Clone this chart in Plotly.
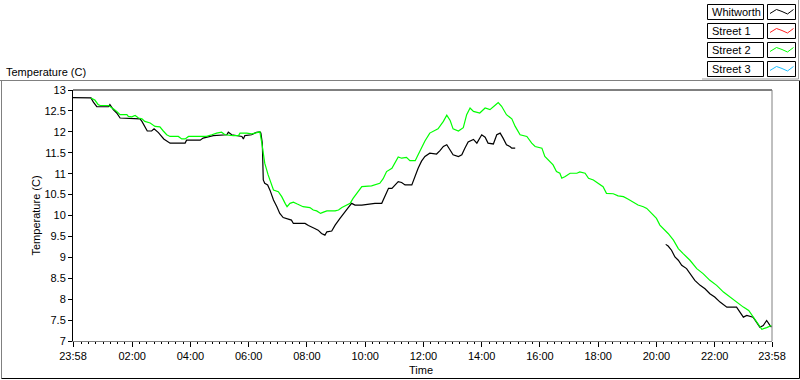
import datetime as dt
import plotly.graph_objects as go

# ---------------- data ----------------
START = "23:58"

whitworth_times = [
    "23:58", "00:35", "00:40", "00:47", "01:11", "01:14", "01:21", "01:28", "01:35", "02:16",
    "02:20", "02:26", "02:31", "02:40", "02:45", "02:54", "03:01", "03:05", "03:18", "03:49",
    "03:52", "04:20", "04:26", "04:40", "04:47", "05:15", "05:18", "05:25", "05:35", "05:46",
    "05:49", "05:52", "06:06", "06:16", "06:23", "06:25", "06:28", "06:30", "06:33", "06:39",
    "06:44", "06:51", "06:58", "07:04", "07:11", "07:21", "07:28", "07:32", "07:56", "08:03",
    "08:10", "08:16", "08:23", "08:30", "08:37", "08:41", "08:51", "08:58", "09:08", "09:15",
    "09:25", "09:32", "09:39", "09:53", "10:06", "10:20", "10:34", "10:41", "10:48", "10:55",
    "11:01", "11:08", "11:15", "11:22", "11:36", "11:43", "11:49", "11:56", "12:03", "12:13",
    "12:27", "12:34", "12:41", "12:48", "12:55", "13:01", "13:12", "13:19", "13:25", "13:32",
    "13:43", "13:50", "14:00", "14:07", "14:13", "14:24", "14:31", "14:38", "14:44", "14:51",
    "14:58", "15:02", "15:09", "17:30", "20:19", "20:24", "20:31", "20:38", "20:45", "20:52",
    "21:02", "21:09", "21:19", "21:30", "21:40", "21:50", "22:00", "22:11", "22:25", "22:45",
    "22:52", "22:59", "23:06", "23:19", "23:26", "23:33", "23:40", "23:47", "23:54", "23:57",
]
whitworth_temp = [
    12.82, 12.81, 12.71, 12.60, 12.60, 12.65, 12.53, 12.45, 12.33, 12.31,
    12.25, 12.13, 12.02, 12.02, 12.07, 11.98, 11.88, 11.83, 11.73, 11.73,
    11.80, 11.80, 11.85, 11.88, 11.91, 11.93, 11.99, 11.93, 11.91, 11.89,
    11.83, 11.91, 11.93, 11.99, 12.00, 11.97, 11.73, 10.85, 10.77, 10.73,
    10.60, 10.37, 10.21, 10.05, 9.95, 9.92, 9.89, 9.81, 9.81, 9.76,
    9.73, 9.69, 9.65, 9.57, 9.53, 9.61, 9.63, 9.77, 9.93, 10.05,
    10.19, 10.29, 10.25, 10.25, 10.27, 10.29, 10.29, 10.49, 10.65, 10.65,
    10.73, 10.81, 10.79, 10.73, 10.73, 10.95, 11.13, 11.30, 11.41, 11.49,
    11.47, 11.55, 11.65, 11.69, 11.55, 11.45, 11.41, 11.45, 11.60, 11.76,
    11.82, 11.73, 11.93, 11.87, 11.73, 11.71, 11.93, 11.97, 11.85, 11.69,
    11.65, 11.61, 11.61, None, 9.31, 9.27, 9.17, 9.01, 8.93, 8.81,
    8.73, 8.61, 8.45, 8.33, 8.25, 8.13, 8.05, 7.93, 7.81, 7.81,
    7.69, 7.57, 7.61, 7.57, 7.45, 7.33, 7.37, 7.49, 7.37, 7.33,
]

street2_times = [
    "00:35", "00:43", "00:50", "00:54", "01:11", "01:14", "01:21", "01:28", "01:35", "01:49",
    "01:52", "01:59", "02:06", "02:13", "02:20", "02:26", "02:37", "02:47", "02:57", "03:04",
    "03:11", "03:18", "03:35", "03:42", "03:49", "03:56", "04:33", "04:44", "04:54", "05:04",
    "05:11", "05:28", "05:39", "05:42", "05:56", "06:06", "06:16", "06:23", "06:27", "06:30",
    "06:33", "06:40", "06:47", "06:51", "07:01", "07:08", "07:15", "07:19", "07:25", "07:32",
    "07:39", "07:46", "07:52", "08:06", "08:13", "08:20", "08:28", "08:34", "08:41", "08:58",
    "09:05", "09:12", "09:22", "09:29", "09:35", "09:42", "09:53", "10:13", "10:20", "10:30",
    "10:37", "10:44", "10:55", "11:01", "11:08", "11:15", "11:25", "11:32", "11:43", "11:49",
    "12:03", "12:13", "12:30", "12:41", "12:48", "12:55", "13:01", "13:12", "13:22", "13:29",
    "13:36", "13:43", "13:56", "14:07", "14:17", "14:27", "14:34", "14:41", "14:51", "15:02",
    "15:09", "15:19", "15:33", "15:43", "15:50", "16:04", "16:10", "16:27", "16:34", "16:41",
    "16:45", "16:52", "17:02", "17:16", "17:22", "17:33", "17:40", "17:50", "18:00", "18:10",
    "18:17", "18:31", "18:41", "18:52", "19:02", "19:12", "19:22", "19:33", "19:40", "19:50",
    "20:00", "20:07", "20:14", "20:24", "20:35", "20:45", "20:55", "21:09", "21:23", "21:36",
    "21:50", "22:04", "22:18", "22:31", "22:45", "22:59", "23:10", "23:19", "23:28", "23:37",
    "23:47", "23:57",
]
street2_temp = [
    12.81, 12.76, 12.65, 12.63, 12.63, 12.61, 12.55, 12.49, 12.41, 12.41,
    12.37, 12.36, 12.39, 12.33, 12.31, 12.25, 12.21, 12.13, 12.12, 12.02,
    11.93, 11.89, 11.89, 11.83, 11.83, 11.89, 11.89, 11.93, 11.97, 11.99,
    11.93, 11.91, 11.91, 11.97, 11.97, 11.95, 11.99, 12.00, 11.73, 11.49,
    11.25, 10.97, 10.73, 10.61, 10.57, 10.45, 10.29, 10.21, 10.29, 10.32,
    10.28, 10.25, 10.21, 10.19, 10.13, 10.11, 10.05, 10.08, 10.11, 10.11,
    10.13, 10.19, 10.25, 10.29, 10.41, 10.53, 10.69, 10.71, 10.73, 10.77,
    10.88, 11.05, 11.13, 11.25, 11.40, 11.37, 11.39, 11.31, 11.31, 11.45,
    11.78, 11.97, 12.07, 12.25, 12.40, 12.27, 12.07, 12.02, 12.10, 12.41,
    12.57, 12.49, 12.45, 12.57, 12.53, 12.63, 12.70, 12.61, 12.41, 12.31,
    12.13, 11.93, 11.89, 11.73, 11.65, 11.61, 11.41, 11.21, 11.05, 11.01,
    10.89, 10.93, 11.01, 11.01, 11.04, 11.01, 10.89, 10.85, 10.77, 10.69,
    10.53, 10.52, 10.47, 10.45, 10.39, 10.33, 10.25, 10.21, 10.17, 10.05,
    9.93, 9.77, 9.69, 9.57, 9.41, 9.21, 9.09, 8.93, 8.73, 8.61,
    8.45, 8.33, 8.17, 8.05, 7.93, 7.81, 7.73, 7.57, 7.41, 7.28,
    7.32, 7.37,
]

street1_times, street1_temp = [], []
street3_times, street3_temp = [], []

series_names = ["Whitworth", "Street 1", "Street 2", "Street 3"]
series_colors = ["#000000", "#FF2020", "#00FF00", "#20C0FF"]

y_ticks = [7, 7.5, 8, 8.5, 9, 9.5, 10, 10.5, 11, 11.5, 12, 12.5, 13]
x_tick_labels = ["23:58", "02:00", "04:00", "06:00", "08:00", "10:00", "12:00",
                 "14:00", "16:00", "18:00", "20:00", "22:00", "23:58"]

# ---------------- helpers ----------------
BASE = dt.datetime(2024, 1, 1)


def to_datetimes(times):
    out = []
    day = 0 if (times and times[0] == START) else 1
    prev = None
    for t in times:
        h, m = map(int, t.split(":"))
        mins = h * 60 + m
        if prev is not None and mins < prev:
            day += 1
        prev = mins
        out.append(BASE + dt.timedelta(days=day, minutes=mins))
    return out


t_start = BASE + dt.timedelta(hours=23, minutes=58)
t_end = t_start + dt.timedelta(days=1)
x_tick_vals = [t_start] + [BASE + dt.timedelta(days=1, hours=h) for h in range(2, 23, 2)] + [t_end]

# pixel layout of the plot area
W, H = 800, 380
L, R, T, B = 73, 772, 90, 341


def px(x):
    return (x - L) / (R - L)


def py(y):
    return (B - y) / (B - T)


# ---------------- figure ----------------
fig = go.Figure()
all_series = [
    (whitworth_times, whitworth_temp),
    (street1_times, street1_temp),
    (street2_times, street2_temp),
    (street3_times, street3_temp),
]
for (tt, vv), name, col in zip(all_series, series_names, series_colors):
    fig.add_trace(go.Scatter(
        x=to_datetimes(tt), y=vv, name=name, mode="lines",
        line=dict(color=col, width=1.2), connectgaps=False, showlegend=False,
    ))

shapes = []


def line(x0, y0, x1, y1, color, width=1):
    shapes.append(dict(type="line", xref="paper", yref="paper",
                       x0=px(x0), y0=py(y0), x1=px(x1), y1=py(y1),
                       line=dict(color=color, width=width)))


# outer frame
line(0, 80.5, 799, 80.5, "#808080")
line(1.5, 80.5, 1.5, 378.5, "#808080")
line(1.5, 378.5, 799.5, 378.5, "#000000")
line(799.5, 80.5, 799.5, 378.5, "#000000")
# plot top and right borders
line(L, T, R, T, "#000000")
line(R, T, R, B, "#808080")

# legend
line(702, 79, 798.5, 79, "#A0A0A0")
line(798.5, 0, 798.5, 79, "#A0A0A0")
annotations = []
for i, (name, col) in enumerate(zip(series_names, series_colors)):
    y0 = 4.5 + 19 * i
    y1 = y0 + 15
    for bx0, bx1 in ((707.5, 763.5), (767.5, 795.5)):
        shapes.append(dict(type="rect", xref="paper", yref="paper",
                           x0=px(bx0), x1=px(bx1), y0=py(y1), y1=py(y0),
                           line=dict(color="#000000", width=1), fillcolor="white"))
    pts = [(770, y0 + 9), (776.5, y0 + 5), (782, y0 + 7), (787.5, y0 + 9.5), (793.5, y0 + 5)]
    path = "M " + " L ".join(f"{px(a):.5f},{py(b):.5f}" for a, b in pts)
    shapes.append(dict(type="path", xref="paper", yref="paper", path=path,
                       line=dict(color=col, width=1)))
    annotations.append(dict(text=name, xref="paper", yref="paper",
                            x=px(709.5), y=py(y0 + 7.5), xanchor="left", yanchor="middle",
                            showarrow=False, font=dict(size=11, color="black")))

annotations += [
    dict(text="Temperature (C)", xref="paper", yref="paper", x=px(4), y=py(72),
         xanchor="left", yanchor="middle", showarrow=False, font=dict(size=11)),
    dict(text="Temperature (C)", xref="paper", yref="paper", x=px(35), y=0.5,
         textangle=-90, xanchor="center", yanchor="middle", showarrow=False,
         font=dict(size=11)),
    dict(text="Time", xref="paper", yref="paper", x=px(421), y=py(369.5),
         xanchor="center", yanchor="middle", showarrow=False, font=dict(size=11)),
]

fig.update_layout(
    width=W, height=H,
    margin=dict(l=L, r=W - R, t=T, b=H - B, pad=0),
    paper_bgcolor="white", plot_bgcolor="white",
    showlegend=False,
    font=dict(family="Liberation Sans, Arial, sans-serif", size=11, color="black"),
    shapes=shapes, annotations=annotations,
    xaxis=dict(
        type="date", range=[t_start, t_end],
        tickmode="array", tickvals=x_tick_vals, ticktext=x_tick_labels,
        ticks="outside", ticklen=5, tickwidth=1, tickcolor="black",
        showline=True, linecolor="#808080", linewidth=1,
        showgrid=False, zeroline=False, tickfont=dict(size=11),
        minor=dict(ticks="outside", ticklen=2, tickwidth=1, tickcolor="black",
                   tickmode="linear", tick0=BASE + dt.timedelta(days=1), dtick=900000,
                   showgrid=False),
    ),
    yaxis=dict(
        range=[7, 13], tickmode="array", tickvals=y_ticks,
        ticktext=[f"{v:g}" for v in y_ticks],
        ticks="outside", ticklen=4, tickcolor="black",
        showline=True, linecolor="black", linewidth=1,
        showgrid=False, zeroline=False, tickfont=dict(size=11),
    ),
)

fig.write_html(
    "out.html",
    config={"displayModeBar": False},
    post_script="document.body.style.margin='0px';document.body.style.padding='0px';",
)
